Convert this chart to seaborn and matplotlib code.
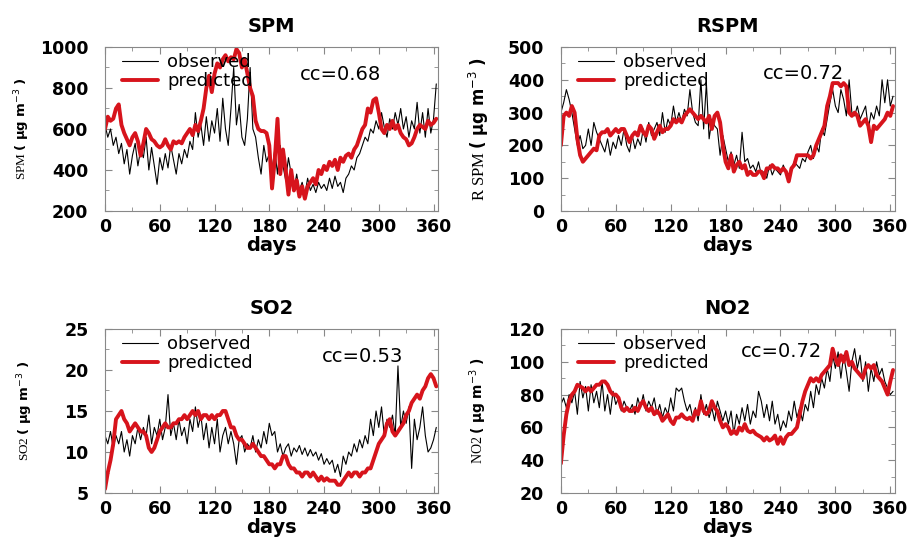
import numpy as np
import pandas as pd
import matplotlib
matplotlib.use("Agg")
import matplotlib.pyplot as plt
from matplotlib.ticker import MultipleLocator
import seaborn as sns

# days sampled every 3 days (0 .. 363)
days = list(range(0, 366, 3))

spm_obs = [620, 560, 600, 520, 560, 480, 530, 430, 500, 380,
           470, 530, 420, 500, 460, 560, 400, 510, 420, 330,
           460, 400, 480, 410, 520, 450, 380, 480, 430, 500,
           460, 540, 500, 680, 560, 620, 520, 660, 540, 640,
           580, 700, 540, 750, 600, 520, 700, 900, 620, 720,
           560, 520, 650, 900, 600, 560, 460, 380, 520, 440,
           480, 400, 500, 380, 520, 420, 350, 460, 380, 300,
           380, 300, 340, 280, 360, 300, 330, 290, 340, 310,
           330, 300, 360, 310, 370, 320, 340, 290, 360, 380,
           420, 400, 460, 480, 520, 560, 540, 600, 580, 640,
           600, 680, 610, 560, 650, 600, 680, 620, 700, 600,
           660, 560, 640, 600, 730, 580, 680, 560, 700, 580,
           650, 820]
spm_pred = [600, 660, 640, 650, 700, 720, 620, 580, 550, 520,
            560, 580, 540, 470, 530, 600, 580, 550, 540, 520,
            510, 520, 550, 520, 500, 540, 530, 540, 530, 560,
            580, 600, 570, 620, 590, 640, 700, 800, 860, 780,
            870, 920, 900, 940, 960, 930, 950, 940, 990, 970,
            900, 940, 870, 800, 760, 640, 600, 590, 590, 580,
            520, 310, 450, 650, 380, 500, 400, 280, 400, 300,
            350, 270, 320, 260, 320, 340, 360, 330, 400, 380,
            420, 400, 440, 420, 450, 400, 460, 440, 470, 480,
            460, 500, 520, 560, 600, 620, 700, 680, 740, 750,
            680, 600, 580, 620, 600, 640, 600, 620, 580, 560,
            550, 520, 530, 560, 600, 620, 610, 600, 640, 620,
            630, 650]

rspm_obs = [300, 330, 370, 340, 300, 250, 200, 230, 190, 200,
            250, 200, 270, 240, 220, 200, 180, 220, 170, 210,
            190, 230, 200, 250, 200, 180, 230, 190, 220, 200,
            250, 210, 270, 230, 250, 270, 230, 300, 240, 280,
            260, 320, 270, 300, 270, 310, 290, 370, 300, 270,
            260, 400, 250, 390, 220, 280, 260, 250, 170, 230,
            190, 150, 180, 140, 170, 130, 240, 150, 160, 130,
            140, 120, 150, 110, 120, 100, 140, 110, 130, 120,
            110, 140, 120, 110, 130, 150, 140, 130, 160, 150,
            180, 200, 160, 200, 180, 250, 230, 280, 330, 370,
            320, 300, 370, 340, 290, 400, 300, 290, 320, 280,
            300, 320, 250, 300, 280, 320, 290, 400, 330, 400,
            320, 350]
rspm_pred = [200, 290, 300, 290, 320, 300, 220, 170, 150, 160,
             170, 180, 190, 185, 230, 240, 240, 250, 230, 240,
             250, 240, 250, 250, 230, 210, 230, 240, 230, 260,
             240, 230, 260, 250, 220, 240, 260, 240, 250, 250,
             260, 280, 270, 280, 270, 290, 300, 310, 300, 290,
             280, 290, 280, 270, 290, 250, 290, 300, 270, 200,
             150, 130, 170, 120, 140, 150, 130, 140, 110, 120,
             110, 110, 120, 120, 100, 130, 130, 140, 130, 130,
             120, 130, 120, 90, 130, 140, 170, 170, 170, 170,
             170, 160, 170, 200, 220, 240, 260, 320, 350, 390,
             390, 390, 380, 390, 380, 300, 290, 300, 290, 260,
             270, 280, 260, 210, 260, 250, 260, 270, 280, 300,
             290, 320]

so2_obs = [12, 11, 12.5, 10.5, 12, 11, 12.5, 10, 11.5, 9.5,
           12, 11, 13, 11.5, 13, 12, 14.5, 11, 13, 12,
           14, 11.5, 13, 17, 12, 13.5, 11.5, 14, 12, 13,
           11, 14, 12.5, 15.5, 13, 14.5, 11.5, 13.5, 10.5, 13,
           11, 14, 10, 12, 13, 11, 12.5, 11, 8.5, 11.5,
           12, 10, 11, 10.5, 12, 10, 11.5, 10.5, 12.5, 11,
           13.5, 12, 12.5, 10, 11, 9.5, 10.5, 11, 9.5, 10.5,
           10, 10.8, 9.7, 10.5, 9.5, 10.3, 9.5, 10, 9, 9.8,
           8.5, 9.2, 8.5, 9, 7.5, 8.5, 7, 9.5, 8.5, 10,
           9.5, 11, 10, 11.5, 10.5, 12, 11, 14, 12, 15,
           13, 15.5, 12, 14, 13, 14.5, 12, 20.5, 13, 15,
           13.5, 15.5, 8, 14, 11.5, 13, 15.5, 12, 10, 10.5,
           11.5, 13]
so2_pred = [5.5, 7.5, 9, 11, 14, 14.5, 15, 14, 13.5, 12.5,
            13, 13.5, 13, 12.5, 12.5, 12, 10.5, 10, 10.5, 11.5,
            12.5, 13, 13.5, 13, 13, 13.5, 13.5, 14, 14, 14.5,
            14, 14.5, 15, 14.5, 15, 14, 14.5, 14.5, 14, 14.5,
            14, 14.5, 14.5, 15, 15, 14, 13, 13, 12, 11.5,
            11.5, 11, 10.5, 10.5, 11, 10.5, 10, 9.5, 9.5, 9,
            8.5, 8.5, 8, 8.5, 8.5, 9.5, 9.5, 8.5, 8, 8,
            7.5, 7.5, 7, 7.5, 7.5, 7, 7.5, 7, 6.5, 7,
            6.5, 6.8, 6.5, 6.5, 6.5, 6, 6, 6.5, 7, 7.5,
            7, 7.5, 7.5, 7, 7.5, 7.5, 8, 8, 9, 10,
            11, 11.5, 12, 13.5, 14, 12.5, 12, 12.5, 13, 13.5,
            14.5, 15, 16, 16.5, 17, 16.5, 17.5, 18, 19, 19.5,
            19, 18]

no2_obs = [74, 78, 72, 80, 75, 82, 68, 88, 78, 85,
           70, 86, 75, 82, 72, 88, 70, 80, 68, 82,
           74, 78, 70, 76, 72, 70, 74, 68, 78, 72,
           80, 70, 76, 72, 78, 68, 74, 66, 72, 68,
           78, 70, 84, 82, 84, 76, 70, 74, 66, 72,
           64, 80, 68, 74, 66, 72, 64, 76, 70, 64,
           70, 62, 70, 56, 68, 62, 72, 64, 74, 62,
           70, 66, 82, 76, 66, 74, 64, 76, 62, 68,
           58, 64, 60, 70, 64, 76, 66, 72, 64, 74,
           70, 82, 72, 86, 80, 90, 84, 96, 88, 104,
           96, 106, 90, 104, 94, 82, 100, 108, 96, 104,
           88, 100, 82, 96, 88, 100, 92, 96, 88, 84,
           80, 82]
no2_pred = [38, 55, 68, 76, 80, 82, 86, 85, 84, 82,
            84, 82, 84, 86, 86, 88, 88, 86, 82, 80,
            80, 78, 72, 70, 72, 70, 70, 72, 70, 74,
            76, 72, 70, 72, 68, 70, 68, 64, 66, 68,
            64, 62, 66, 66, 68, 66, 65, 66, 64, 70,
            68, 76, 70, 68, 70, 76, 72, 70, 64, 60,
            62, 60, 56, 58, 56, 60, 58, 62, 58, 57,
            58, 56, 55, 54, 52, 54, 52, 53, 55, 50,
            54, 50, 54, 56, 56, 58, 60, 68, 76, 82,
            86, 90, 88, 90, 88, 92, 94, 96, 98, 108,
            102, 98, 104, 100, 106, 98, 100, 96, 94, 92,
            90, 96, 98, 96, 98, 92, 90, 88, 84, 80,
            88, 95]

titles = ["SPM", "RSPM", "SO2", "NO2"]
cc_labels = ["cc=0.68", "cc=0.72", "cc=0.53", "cc=0.72"]
unit = r"$\mathbf{(\ \mu g\ m}^{-3}\mathbf{\ )}$"
ylabels = ["SPM " + unit, "R SPM " + unit, "SO2 " + unit, "NO2 " + unit]
ylabel_sizes = [9.5, 12, 9.5, 10]
ylims = [(200, 1000), (0, 500), (5, 25), (20, 120)]
ysteps = [200, 100, 5, 20]
xticks = [0, 60, 120, 180, 240, 300, 360]
cc_pos = [(0.585, 0.83), (0.605, 0.84), (0.65, 0.83), (0.54, 0.86)]
# right edge of each y label, as a fraction of the axes width (left of the axes)
ylabel_x = [-0.22, -0.21, -0.21, -0.215]

sns.set_style("ticks")
plt.rcParams["font.family"] = ["DejaVu Sans"]
plt.rcParams["mathtext.fontset"] = "dejavusans"
plt.rcParams["text.color"] = "black"
plt.rcParams["axes.labelcolor"] = "black"

fig = plt.figure(figsize=(9.15, 5.42), dpi=100)
boxes = [[0.1148, 0.6107, 0.364, 0.3026], [0.613, 0.6107, 0.365, 0.3026],
         [0.1148, 0.0904, 0.364, 0.3026], [0.613, 0.0904, 0.365, 0.3026]]
pairs = [(spm_obs, spm_pred), (rspm_obs, rspm_pred),
         (so2_obs, so2_pred), (no2_obs, no2_pred)]

for i, (obs, pred) in enumerate(pairs):
    ax = fig.add_axes(boxes[i])
    df = pd.DataFrame({"day": days, "observed": obs, "predicted": pred})
    sns.lineplot(data=df, x="day", y="observed", ax=ax, color="black",
                 linewidth=0.8, label="observed")
    sns.lineplot(data=df, x="day", y="predicted", ax=ax, color="#d7141c",
                 linewidth=2.8, label="predicted")
    ax.set_xlim(0, 365)
    ax.set_ylim(*ylims[i])
    ax.set_xticks(xticks)
    ax.xaxis.set_minor_locator(MultipleLocator(30))
    ax.yaxis.set_major_locator(MultipleLocator(ysteps[i]))
    ax.yaxis.set_minor_locator(MultipleLocator(ysteps[i] / 2))
    ax.tick_params(which="both", direction="in", top=True, right=True,
                   color="#888888", labelcolor="black")
    ax.tick_params(which="major", length=5, labelsize=12.5)
    ax.tick_params(axis="y", which="major", pad=12)
    ax.tick_params(axis="x", which="major", pad=5)
    ax.tick_params(which="minor", length=3)
    for lab in ax.get_xticklabels() + ax.get_yticklabels():
        lab.set_fontweight("bold")
    for s in ax.spines.values():
        s.set_color("#888888")
        s.set_linewidth(0.8)
    ax.set_title(titles[i], fontsize=14, fontweight="bold", pad=11)
    ax.set_xlabel("days", fontsize=14, fontweight="bold", labelpad=0)
    ax.set_ylabel(ylabels[i], fontsize=ylabel_sizes[i],
                  family=["Liberation Serif", "DejaVu Serif"])
    ax.yaxis.set_label_coords(ylabel_x[i], 0.5)
    ax.legend(loc="upper left", frameon=False, fontsize=13,
              handlelength=2.0, handletextpad=0.5, borderaxespad=0.0,
              labelspacing=0.05, borderpad=0.2,
              bbox_to_anchor=(0.04, 0.985))
    ax.text(cc_pos[i][0], cc_pos[i][1], cc_labels[i], transform=ax.transAxes,
            fontsize=14, va="center")

fig.savefig("out.png", dpi=100)
